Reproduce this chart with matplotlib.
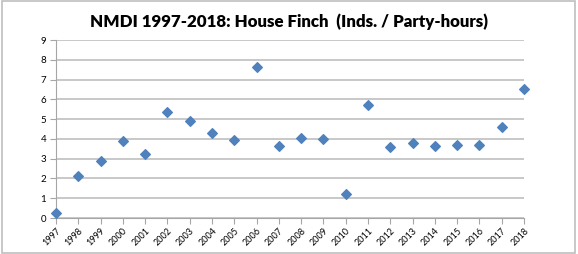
import matplotlib.pyplot as plt
from matplotlib.patches import Rectangle

# Data
years = [str(y) for y in range(1997, 2019)]
values = [0.25, 2.1, 2.9, 3.9, 3.25, 5.35, 4.9, 4.3, 3.95, 7.65, 3.65,
          4.05, 4.0, 1.2, 5.7, 3.6, 3.8, 3.65, 3.7, 3.7, 4.6, 6.5]
yticks = list(range(0, 10))

plt.rcParams['font.family'] = ['Lato', 'DejaVu Sans']

fig = plt.figure(figsize=(5.78, 2.54), dpi=100)
ax = fig.add_axes([56 / 578, 36 / 254, 468 / 578, 178 / 254])

x = list(range(len(years)))
ax.scatter(x, values, marker='D', s=24, color='#4F81BD', zorder=3, clip_on=False)

ax.set_xlim(0, len(years) - 1)
ax.set_ylim(0, 9)
ax.set_yticks(yticks)
ax.set_xticks(x)
ax.set_xticklabels(years, rotation=45, ha='right', rotation_mode='anchor', fontsize=6.5)
ax.tick_params(axis='y', labelsize=7, length=4, color='#a6a6a6', pad=3)
ax.tick_params(axis='x', length=4, color='#a6a6a6', pad=2)
ax.grid(axis='y', color='#bfbfbf', linewidth=1.2)
for s in ['top', 'right']:
    ax.spines[s].set_visible(False)
for s in ['left', 'bottom']:
    ax.spines[s].set_color('#a6a6a6')
ax.set_axisbelow(True)

fig.text(0.5, 0.915, 'NMDI 1997-2018: House Finch  (Inds. / Party-hours)',
         ha='center', va='center', fontsize=12.2, fontweight='heavy')

fig.patches.append(Rectangle((0.003, 0.005), 0.992, 0.99, transform=fig.transFigure,
                             fill=False, edgecolor='#bfbfbf', linewidth=1.2))

fig.savefig('out.png', dpi=100)
